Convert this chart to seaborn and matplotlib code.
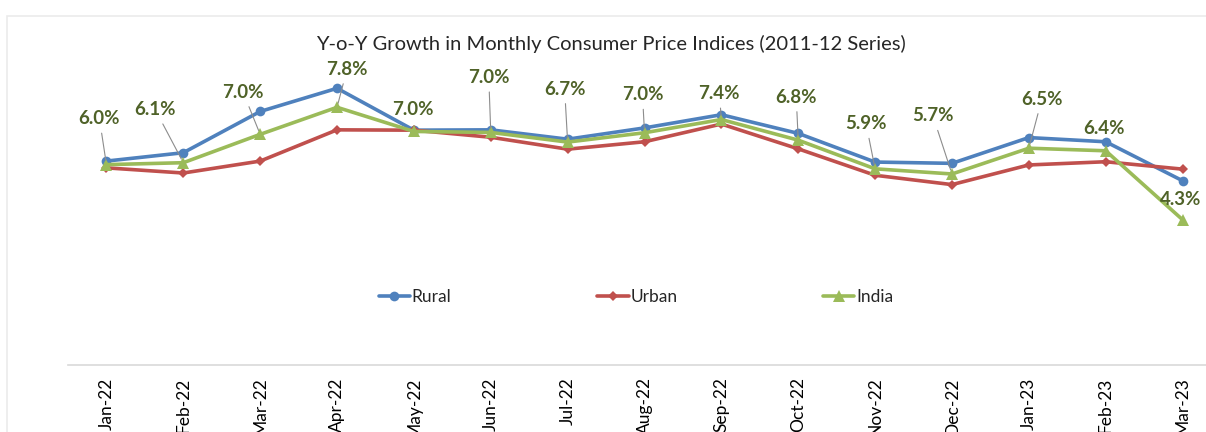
import pandas as pd
import seaborn as sns
import matplotlib.pyplot as plt
from matplotlib.patches import Rectangle

months = ["Jan-22", "Feb-22", "Mar-22", "Apr-22", "May-22", "Jun-22", "Jul-22", "Aug-22",
          "Sep-22", "Oct-22", "Nov-22", "Dec-22", "Jan-23", "Feb-23", "Mar-23"]
rural = [6.12, 6.38, 7.66, 8.38, 7.08, 7.09, 6.80, 7.15, 7.56, 6.98, 6.09, 6.05, 6.85, 6.72, 5.51]
urban = [5.91, 5.75, 6.12, 7.09, 7.08, 6.86, 6.49, 6.72, 7.27, 6.50, 5.68, 5.39, 6.00, 6.10, 5.87]
india = [6.01, 6.07, 6.95, 7.79, 7.04, 7.01, 6.71, 7.00, 7.41, 6.77, 5.88, 5.72, 6.52, 6.44, 4.30]
series = ["Rural", "Urban", "India"]

# label offsets from the India points (pixels) and whether a leader line is drawn
label_offsets = [(-7, 46), (-28, 53), (-17, 42), (10, 38), (-1, 22), (-2, 55), (-3, 53), (-2, 38),
                 (-2, 26), (-2, 43), (-9, 45), (-19, 58), (13, 49), (-2, 22), (-2, 20)]
leaders = [1, 1, 1, 1, 0, 1, 1, 1, 1, 1, 1, 1, 1, 0, 0]

df = pd.concat([
    pd.DataFrame({"Month": months, "Series": name, "Value": vals})
    for name, vals in zip(series, [rural, urban, india])
])

sns.set_style("white")
plt.rcParams["font.family"] = ["Lato", "DejaVu Sans"]

fig = plt.figure(figsize=(12.06, 4.32), dpi=100)
ax = fig.add_axes([68 / 1206, 67 / 432, 1153 / 1206, 345 / 432])

palette = {"Rural": "#4F81BD", "Urban": "#C0504D", "India": "#9BBB59"}
markers = {"Rural": "o", "Urban": "D", "India": "^"}
sns.lineplot(data=df, x="Month", y="Value", hue="Series", style="Series",
             hue_order=series, style_order=series, palette=palette, markers=markers,
             dashes=False, linewidth=2.6, markersize=7, markeredgewidth=0,
             legend=False, ax=ax)
for line, name in zip(ax.lines, series):
    line.set_label(name)
    if name == "Urban":
        line.set_markersize(5.5)
    if name == "India":
        line.set_markersize(8)

for i, v in enumerate(india):
    arrow = dict(arrowstyle="-", color="#8C8C8C", lw=0.8, shrinkA=2, shrinkB=3) if leaders[i] else None
    ax.annotate(f"{v:.1f}%", xy=(i, v), xytext=label_offsets[i], textcoords="offset pixels",
                ha="center", va="center", fontsize=13.5, fontweight="bold", color="#4F6228",
                arrowprops=arrow)

ax.set_xlim(-0.5, len(months) - 0.5)
ax.set_ylim(-0.21, 10.5)
ax.set_xlabel("")
ax.set_ylabel("")
ax.set_yticks([])
for s in ["top", "left", "right"]:
    ax.spines[s].set_visible(False)
ax.spines["bottom"].set_color("#D9D9D9")
ax.spines["bottom"].set_linewidth(1.2)
ax.set_xticks(range(len(months)))
ax.set_xticklabels(months, rotation=90, fontsize=12.5, color="#000000")
ax.set_xticks([i - 0.5 for i in range(len(months) + 1)], minor=True)
ax.tick_params(axis="x", which="major", length=0, pad=9)
ax.tick_params(axis="x", which="minor", length=4.5, color="#D9D9D9", width=1.2)

ax.legend(loc="center", bbox_to_anchor=(636 / 1206, 135 / 432), bbox_transform=fig.transFigure,
          ncol=3, frameon=False, fontsize=12.5, handlelength=1.8, handletextpad=0.1,
          columnspacing=8.4)

fig.text(611 / 1206, 1 - 44 / 432, "Y-o-Y Growth in Monthly Consumer Price Indices (2011-12 Series)",
         ha="center", va="center", fontsize=14.5)

fig.patches.append(Rectangle((7 / 1206, -0.1), 1.1, 1.1 - 16 / 432, transform=fig.transFigure,
                             fill=False, edgecolor="#EBEBEB", lw=1.2))

fig.savefig("out.png", dpi=100)
